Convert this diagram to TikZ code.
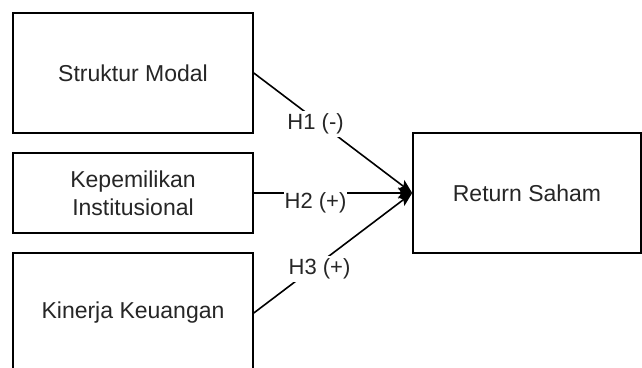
\documentclass[tikz,border=0pt]{standalone}
\usepackage{fontspec}
\setmainfont{Liberation Sans}
\usetikzlibrary{arrows.meta}
\definecolor{txt}{HTML}{262626}
\tikzset{
  box/.style={draw=black, line width=1.6pt, fill=white, text=txt, align=center,
    font=\fontsize{23}{28}\selectfont, inner sep=0pt},
  arr/.style={draw=black, line width=1.6pt, -{Stealth[length=14pt,width=11pt,inset=3pt]}},
  lbl/.style={fill=white, text=txt, font=\fontsize{22}{26}\selectfont, inner xsep=1pt, inner ysep=3pt, sloped=false}
}
\begin{document}
\begin{tikzpicture}[x=1pt,y=-1pt]
\clip (0,0) rectangle (642,367);
\fill[white] (0,0) rectangle (642,367);
\node[box, minimum width=240pt, minimum height=120pt] (sm) at (133,73) {Struktur Modal};
\node[box, minimum width=240pt, minimum height=80pt] (ki) at (133,193) {Kepemilikan\\Institusional};
\node[box, minimum width=240pt, minimum height=120pt] (kk) at (133,313) {Kinerja Keuangan};
\node[box, minimum width=228pt, minimum height=120pt] (rs) at (527,193) {Return Saham};
\draw[arr] (sm.east) -- (rs.west) node[lbl, pos=0.39, yshift=-4pt] {H1 (-)};
\draw[arr] (ki.east) -- (rs.west) node[lbl, pos=0.39, yshift=-10pt] {H2 (+)};
\draw[arr] (kk.east) -- (rs.west) node[lbl, pos=0.415, yshift=-6pt] {H3 (+)};
\end{tikzpicture}
\end{document}
